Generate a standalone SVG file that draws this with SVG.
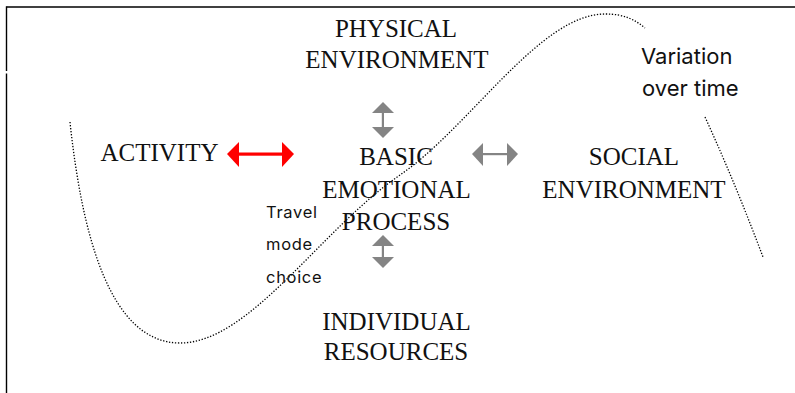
<svg xmlns="http://www.w3.org/2000/svg" width="795" height="393" viewBox="0 0 795 393">
  <style>
    .frame { stroke: #000; stroke-width: 1.4; fill: none; }
    .wave { stroke: #000; stroke-width: 1.3; fill: none; stroke-dasharray: 1.3 1.7; }
    .node { font-family: "Liberation Serif", "Times New Roman", serif; font-size: 25px; fill: #111; text-anchor: middle; }
    .note { font-family: Inter, "Liberation Sans", sans-serif; fill: #111; }
    .small { font-size: 16.5px; letter-spacing: 0.7px; }
    .red { fill: #ff0000; }
    .grey { fill: #848484; }
  </style>

  <rect width="795" height="393" fill="#fff"/>

  <!-- page frame -->
  <g id="frame">
    <path class="frame" d="M6.5,7 H795"/>
    <path class="frame" d="M6.5,6.3 V71"/>
    <path class="frame" d="M6.5,73.5 V393"/>
  </g>

  <!-- dotted wave showing variation over time -->
  <g id="wave">
    <path class="wave" d="M70,122 C82,235 110,343 180,343 C250,343 320,230 400,175 C470,127 540,14 605,14 C625,14 635,20 645,28"/>
    <path class="wave" d="M705,117 C727,165 746,212 763,257"/>
  </g>

  <g id="physical">
    <text class="node" x="396" y="37">PHYSICAL</text>
    <text class="node" x="397" y="68">ENVIRONMENT</text>
  </g>

  <g id="activity">
    <text class="node" x="159.5" y="161">ACTIVITY</text>
  </g>

  <g id="emotional">
    <text class="node" x="396" y="165">BASIC</text>
    <text class="node" x="396.5" y="198">EMOTIONAL</text>
    <text class="node" x="396" y="230">PROCESS</text>
  </g>

  <g id="social">
    <text class="node" x="634" y="165">SOCIAL</text>
    <text class="node" x="634" y="198">ENVIRONMENT</text>
  </g>

  <g id="resources">
    <text class="node" x="396.5" y="330">INDIVIDUAL</text>
    <text class="node" x="396" y="360">RESOURCES</text>
  </g>

  <g id="travel-label">
    <text class="note small" x="266" y="218">Travel</text>
    <text class="note small" x="266" y="250">mode</text>
    <text class="note small" x="266" y="283">choice</text>
  </g>

  <g id="time-label">
    <text class="note" font-size="22" x="641" y="64">Variation</text>
    <text class="note" font-size="22" x="642" y="96">over time</text>
  </g>

  <!-- double-headed links between factors and the emotional process -->
  <g id="connectors">
    <!-- activity <-> emotional process -->
    <g class="red">
      <rect x="236" y="152.5" width="48" height="3.2"/>
      <polygon points="227,154 239,142 239,167"/>
      <polygon points="294,154 282,142 282,167"/>
    </g>
    <!-- emotional process <-> social environment -->
    <g class="grey">
      <rect x="480" y="153" width="30" height="2.2"/>
      <polygon points="472,154 483,143 483,166"/>
      <polygon points="518,154 507,143 507,166"/>
    </g>
    <!-- physical environment <-> emotional process -->
    <g class="grey">
      <rect x="381.8" y="110" width="2.2" height="20"/>
      <polygon points="383,102 372,113 394,113"/>
      <polygon points="383,138 372,127 394,127"/>
    </g>
    <!-- emotional process <-> individual resources -->
    <g class="grey">
      <rect x="381.8" y="243" width="2.2" height="20"/>
      <polygon points="383,235 372,246 394,246"/>
      <polygon points="383,268 372,257 394,257"/>
    </g>
  </g>
</svg>
